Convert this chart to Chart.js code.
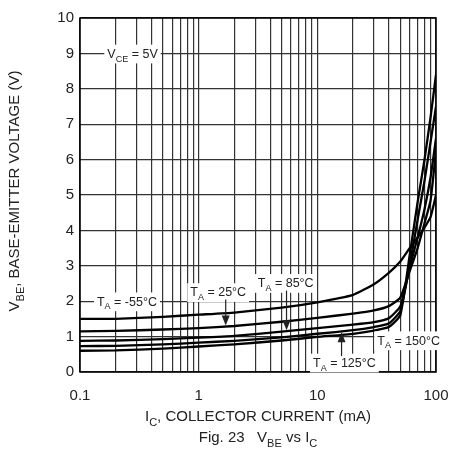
<!DOCTYPE html>
<html>
<head>
<meta charset="utf-8">
<script src="https://cdn.jsdelivr.net/npm/chart.js@4.4.1/dist/chart.umd.min.js"></script>
<style>
  html, body { margin: 0; padding: 0; background: #fff; }
  #wrap { width: 461px; height: 450px; }
</style>
</head>
<body>
<div id="wrap"><canvas id="vbe" width="461" height="450"></canvas></div>
<script>
// collector current (mA) and base-emitter voltage (V) per ambient temperature
const currents = [0.1, 0.2, 0.5, 1, 2, 5, 10, 20, 30, 40, 50, 60, 70, 80, 90, 100];
const vbeM55 = [1.50, 1.50, 1.56, 1.62, 1.68, 1.82, 1.97, 2.18, 2.48, 2.80, 3.12, 3.50, 3.80, 4.08, 4.38, 5.00];
const vbe25  = [1.15, 1.16, 1.20, 1.24, 1.30, 1.42, 1.53, 1.65, 1.74, 1.86, 2.10, 2.85, 3.50, 4.20, 4.85, 6.25];
const vbe85  = [0.88, 0.89, 0.93, 0.97, 1.02, 1.14, 1.24, 1.34, 1.41, 1.52, 1.85, 2.95, 3.80, 4.60, 5.50, 6.60];
const vbe125 = [0.73, 0.74, 0.78, 0.83, 0.88, 0.98, 1.08, 1.18, 1.27, 1.37, 1.72, 3.00, 4.30, 5.40, 6.50, 7.50];
const vbe150 = [0.60, 0.61, 0.66, 0.72, 0.78, 0.89, 0.99, 1.08, 1.17, 1.27, 1.60, 3.30, 4.80, 6.00, 7.20, 8.40];

const xTicks = [0.1, 1, 10, 100];
const yTicks = [0, 1, 2, 3, 4, 5, 6, 7, 8, 9, 10];

const FONT = "'Liberation Sans', Arial, sans-serif";

const toPoints = vals => currents.map((c, i) => ({ x: c, y: vals[i] }));

// linear interpolation in log(I) so arrow tips sit on the curves
function vbeAt(vals, ic) {
  const lx = Math.log10(ic);
  for (let i = 1; i < currents.length; i++) {
    const a = Math.log10(currents[i - 1]), b = Math.log10(currents[i]);
    if (lx <= b) return vals[i - 1] + (vals[i] - vals[i - 1]) * (lx - a) / (b - a);
  }
  return vals[vals.length - 1];
}

// text with subscripts: parts = [[text, isSub], ...]
function drawParts(ctx, parts, x, y, size, box) {
  const subSize = Math.round(size * 0.75);
  let w = 0;
  parts.forEach(([t, sub]) => {
    ctx.font = (sub ? subSize : size) + "px " + FONT;
    w += ctx.measureText(t).width;
  });
  if (box) {
    ctx.fillStyle = "#fff";
    ctx.fillRect(x - 3, y - size * 0.7, w + 6, size * 1.5);
  }
  ctx.fillStyle = "#222";
  ctx.textBaseline = "alphabetic";
  ctx.textAlign = "left";
  let cx = x;
  parts.forEach(([t, sub]) => {
    ctx.font = (sub ? subSize : size) + "px " + FONT;
    ctx.fillText(t, cx, y + size * 0.36 + (sub ? size * 0.3 : 0));
    cx += ctx.measureText(t).width;
  });
  return w;
}

function measure(ctx, parts, size) {
  return drawParts(ctx, parts, 0, -1000, size, false);
}

function arrow(ctx, x, y0, y1) {
  const dir = Math.sign(y1 - y0);
  ctx.strokeStyle = "#222";
  ctx.lineWidth = 1.2;
  ctx.beginPath();
  ctx.moveTo(x, y0);
  ctx.lineTo(x, y1 - dir * 8);
  ctx.stroke();
  ctx.fillStyle = "#222";
  ctx.beginPath();
  ctx.moveTo(x, y1);
  ctx.lineTo(x - 4, y1 - dir * 10);
  ctx.lineTo(x + 4, y1 - dir * 10);
  ctx.closePath();
  ctx.fill();
}

const decor = {
  id: "decor",
  afterDraw(chart) {
    const { ctx, chartArea: a, scales: { x, y } } = chart;
    ctx.save();
    ctx.strokeStyle = "#000";
    ctx.lineWidth = 1.5;
    ctx.strokeRect(a.left, a.top, a.right - a.left, a.bottom - a.top);

    const ta = (t) => [["T", 0], ["A", 1], [" = " + t, 0]];
    const fs = 12.5;
    drawParts(ctx, [["V", 0], ["CE", 1], [" = 5V", 0]], x.getPixelForValue(0.17), y.getPixelForValue(9), fs, true);
    drawParts(ctx, ta("-55°C"), x.getPixelForValue(0.139), y.getPixelForValue(2), fs, true);
    drawParts(ctx, ta("25°C"), x.getPixelForValue(0.85), y.getPixelForValue(2.26), fs, true);
    drawParts(ctx, ta("85°C"), x.getPixelForValue(3.15), y.getPixelForValue(2.52), fs, true);
    drawParts(ctx, ta("125°C"), x.getPixelForValue(9.2), y.getPixelForValue(0.27), fs, true);
    drawParts(ctx, ta("150°C"), x.getPixelForValue(32), y.getPixelForValue(0.9), fs, true);

    arrow(ctx, x.getPixelForValue(1.69), y.getPixelForValue(2.05), y.getPixelForValue(vbeAt(vbe25, 1.69)) - 1);
    arrow(ctx, x.getPixelForValue(5.5), y.getPixelForValue(2.3), y.getPixelForValue(vbeAt(vbe85, 5.5)) - 1);
    arrow(ctx, x.getPixelForValue(16), y.getPixelForValue(0.45), y.getPixelForValue(vbeAt(vbe125, 16)) + 1);

    // axis titles and figure caption
    const cx = (a.left + a.right) / 2;
    const xt = [["I", 0], ["C", 1], [", COLLECTOR CURRENT (mA)", 0]];
    drawParts(ctx, xt, cx - measure(ctx, xt, 15) / 2, 416, 15, false);
    const cap = [["Fig. 23   V", 0], ["BE", 1], [" vs I", 0], ["C", 1]];
    drawParts(ctx, cap, cx - measure(ctx, cap, 15) / 2, 437, 15, false);

    ctx.translate(14, 191);
    ctx.rotate(-Math.PI / 2);
    const yt = [["V", 0], ["BE", 1], [", BASE-EMITTER VOLTAGE (V)", 0]];
    drawParts(ctx, yt, -measure(ctx, yt, 15) / 2, 0, 15, false);
    ctx.restore();
  }
};

const series = [vbeM55, vbe25, vbe85, vbe125, vbe150];

new Chart(document.getElementById("vbe"), {
  type: "line",
  data: {
    datasets: series.map((vals, i) => ({
      label: ["-55", "25", "85", "125", "150"][i],
      data: toPoints(vals),
      borderColor: "#000",
      borderWidth: 2.3,
      pointRadius: 0,
      tension: 0.15,
      fill: false
    }))
  },
  options: {
    responsive: false,
    animation: false,
    layout: { padding: { top: 18, right: 25, left: 0, bottom: 0 } },
    plugins: { legend: { display: false }, tooltip: { enabled: false } },
    scales: {
      x: {
        type: "logarithmic",
        min: 0.1,
        max: 100,
        afterFit: s => { s.height = 78; s.paddingLeft = 0; s.paddingRight = 0; },
        afterBuildTicks: s => {
          const t = [];
          [0.1, 1, 10].forEach(d => { for (let k = 1; k <= 9; k++) t.push({ value: +(d * k).toPrecision(3) }); });
          t.push({ value: 100 });
          s.ticks = t;
        },
        ticks: {
          autoSkip: false,
          maxRotation: 0,
          padding: 15,
          color: "#222",
          font: { family: FONT, size: 15 },
          callback: v => (xTicks.includes(v) ? String(v) : "")
        },
        grid: { color: "#333", lineWidth: 1.2, drawTicks: false },
        border: { display: false }
      },
      y: {
        min: 0,
        max: 10,
        afterFit: s => { s.width = 80; s.paddingTop = 0; s.paddingBottom = 0; },
        afterBuildTicks: s => { s.ticks = yTicks.map(v => ({ value: v })); },
        ticks: {
          padding: 6,
          color: "#222",
          font: { family: FONT, size: 15 }
        },
        grid: { color: "#333", lineWidth: 1.2, drawTicks: false },
        border: { display: false }
      }
    }
  },
  plugins: [decor]
});
</script>
</body>
</html>
